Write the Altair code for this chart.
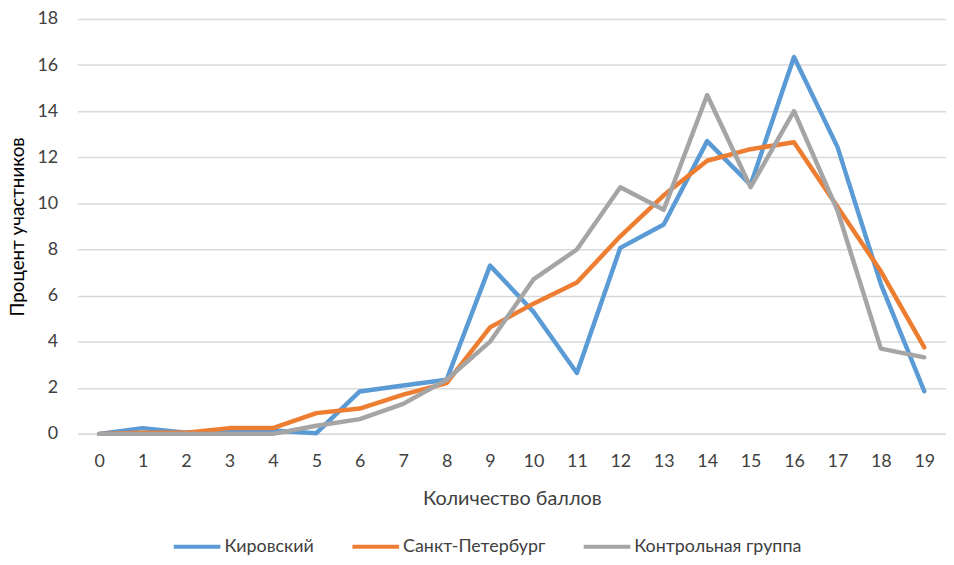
import altair as alt
import pandas as pd

scores = list(range(20))
series_names = ["Кировский", "Санкт-Петербург", "Контрольная группа"]
kirov = [0, 0.25, 0.05, 0.15, 0.15, 0.03, 1.84, 2.1, 2.35, 7.3, 5.3, 2.64, 8.07, 9.08, 12.7, 10.8, 16.35, 12.45, 6.5, 1.85]
spb = [0, 0.05, 0.05, 0.25, 0.25, 0.9, 1.1, 1.7, 2.2, 4.62, 5.65, 6.57, 8.57, 10.35, 11.85, 12.35, 12.65, 9.85, 7.05, 3.75]
control = [0, 0, 0, 0, 0, 0.35, 0.64, 1.3, 2.35, 4.0, 6.7, 8.0, 10.7, 9.72, 14.7, 10.7, 14.0, 9.7, 3.7, 3.32]
colors = ["#5B9BD5", "#ED7D31", "#A5A5A5"]

rows = []
for name, vals in zip(series_names, [kirov, spb, control]):
    for s, v in zip(scores, vals):
        rows.append({"score": s, "value": v, "series": name})
df = pd.DataFrame(rows)

FONT = "Lato"

chart = alt.Chart(df).mark_line(strokeWidth=4.5, strokeJoin="round", strokeCap="round").encode(
    x=alt.X("score:O", sort=scores,
            scale=alt.Scale(type="point", padding=0.5),
            axis=alt.Axis(title="Количество баллов", labelAngle=0, ticks=False, grid=False,
                          domainColor="#D9D9D9", domainWidth=1.5,
                          labelFont=FONT, labelFontSize=18, labelColor="#404040", labelPadding=19,
                          titleFont=FONT, titleFontSize=20, titleFontWeight="normal", titleColor="#404040",
                          titlePadding=18)),
    y=alt.Y("value:Q",
            scale=alt.Scale(domain=[0, 18], nice=False),
            axis=alt.Axis(title="Процент участников", values=list(range(0, 19, 2)), domain=False, ticks=False,
                          gridColor="#D9D9D9", gridWidth=1.5,
                          labelFont=FONT, labelFontSize=18, labelColor="#404040", labelPadding=20,
                          titleFont=FONT, titleFontSize=19, titleFontWeight="normal", titleColor="#000000",
                          titlePadding=9)),
    color=alt.Color("series:N", sort=series_names,
                    scale=alt.Scale(domain=series_names, range=colors),
                    legend=alt.Legend(title=None, orient="none", direction="horizontal",
                                      legendX=95, legendY=506,
                                      symbolType="stroke", symbolSize=2209, symbolStrokeWidth=4,
                                      labelFont=FONT, labelFontSize=18, labelColor="#404040",
                                      labelLimit=400, labelOffset=2, columnPadding=30)),
).properties(
    width=875, height=418,
    autosize=alt.AutoSizeParams(type="none"),
    padding={"left": 70, "top": 9, "right": 0, "bottom": 121},
).configure_view(stroke=None)

chart.save("out.html", embed_options={"renderer": "svg", "actions": False})
